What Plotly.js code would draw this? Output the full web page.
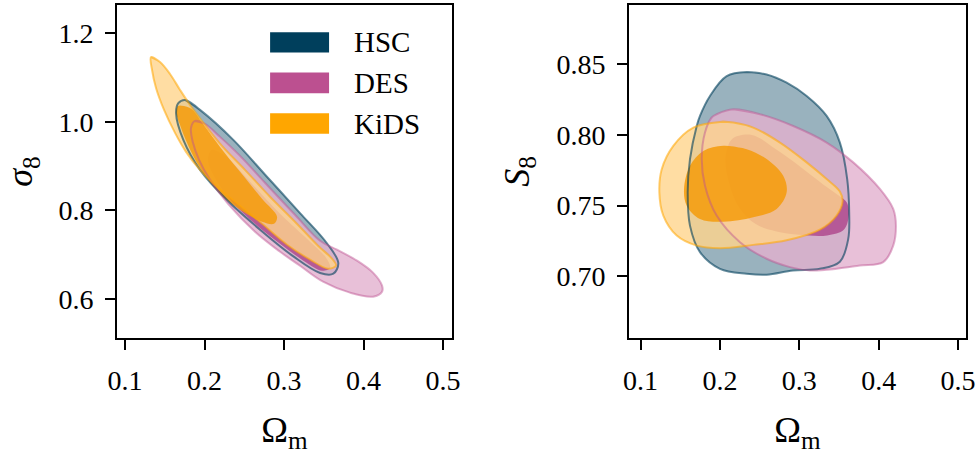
<!DOCTYPE html>
<html>
<head>
<meta charset="utf-8">
<script src="https://cdn.plot.ly/plotly-3.0.1.min.js"></script>
<style>
  html, body { margin: 0; padding: 0; background: #ffffff; }
  #chart { width: 976px; height: 456px; }
</style>
</head>
<body>
<div id="chart"></div>
<script>
// Survey names and their base colours
const surveys = ['HSC', 'DES', 'KiDS'];
const surveyColors = ['#003f5c', '#bc5090', '#ffa600'];

// ---- Left panel: Omega_m vs sigma_8 contour outlines ----
const hscSigOuterX = [0.1755, 0.1943, 0.2362, 0.2782, 0.3201, 0.3537, 0.3683, 0.3620, 0.3453, 0.3117, 0.2698, 0.2279, 0.1943, 0.1733, 0.1642, 0.1670];
const hscSigOuterY = [1.0496, 1.0271, 0.9594, 0.8767, 0.7941, 0.7265, 0.6814, 0.6573, 0.6589, 0.6963, 0.7565, 0.8241, 0.8918, 0.9594, 1.0196, 1.0422];

const desSigOuterX = [0.1881, 0.2006, 0.2195, 0.2447, 0.2761, 0.3138, 0.3453, 0.3667, 0.3918, 0.4119, 0.4233, 0.4233, 0.4119, 0.3830, 0.3491, 0.3201, 0.2950, 0.2635, 0.2296, 0.2069, 0.1931, 0.1855, 0.1830];
const desSigOuterY = [1.0023, 0.9955, 0.9662, 0.9233, 0.8625, 0.7903, 0.7317, 0.7114, 0.6866, 0.6595, 0.6302, 0.6167, 0.6054, 0.6144, 0.6392, 0.6752, 0.7068, 0.7519, 0.8150, 0.8692, 0.9143, 0.9527, 0.9865];
const desSigInnerX = [0.2094, 0.2258, 0.2572, 0.2950, 0.3327, 0.3528, 0.3579, 0.3478, 0.3264, 0.2950, 0.2635, 0.2346, 0.2132, 0.2044];
const desSigInnerY = [0.9369, 0.9234, 0.8647, 0.7925, 0.7294, 0.6933, 0.6708, 0.6641, 0.6843, 0.7249, 0.7700, 0.8196, 0.8737, 0.9143];

const kidsSigOuterX = [0.1327, 0.1440, 0.1566, 0.1692, 0.1843, 0.2006, 0.2220, 0.2509, 0.2824, 0.3138, 0.3428, 0.3604, 0.3654, 0.3553, 0.3327, 0.3038, 0.2723, 0.2447, 0.2170, 0.1943, 0.1767, 0.1629, 0.1491, 0.1390, 0.1340];
const kidsSigOuterY = [1.1466, 1.1353, 1.1082, 1.0722, 1.0316, 0.9932, 0.9459, 0.8918, 0.8309, 0.7745, 0.7204, 0.6911, 0.6753, 0.6686, 0.6889, 0.7227, 0.7700, 0.8106, 0.8512, 0.8918, 0.9324, 0.9752, 1.0271, 1.0767, 1.1172];
const kidsSigInnerX = [0.1667, 0.1818, 0.1981, 0.2195, 0.2447, 0.2723, 0.2912, 0.2874, 0.2723, 0.2447, 0.2170, 0.1943, 0.1792, 0.1692, 0.1642];
const kidsSigInnerY = [1.0361, 1.0316, 0.9954, 0.9436, 0.8872, 0.8263, 0.7857, 0.7700, 0.7745, 0.8016, 0.8422, 0.8963, 0.9481, 0.9932, 1.0225];

// ---- Right panel: Omega_m vs S_8 contour outlines ----
const hscS8OuterX = [0.2336, 0.2588, 0.2840, 0.3092, 0.3344, 0.3511, 0.3603, 0.3628, 0.3616, 0.3511, 0.3259, 0.2919, 0.2588, 0.2336, 0.2000, 0.1748, 0.1622, 0.1593, 0.1622, 0.1707, 0.1748, 0.1874, 0.2084];
const hscS8OuterY = [0.8444, 0.8427, 0.8369, 0.8275, 0.8134, 0.7946, 0.7688, 0.7454, 0.7265, 0.7104, 0.7054, 0.7042, 0.7012, 0.7019, 0.7054, 0.7172, 0.7359, 0.7594, 0.7829, 0.8063, 0.8134, 0.8275, 0.8415];

const desS8OuterX = [0.2168, 0.2504, 0.2923, 0.3344, 0.3679, 0.4015, 0.4183, 0.4217, 0.4183, 0.4057, 0.3763, 0.3470, 0.3134, 0.2882, 0.2588, 0.2252, 0.1958, 0.1811, 0.1770, 0.1811, 0.1895, 0.1958];
const desS8OuterY = [0.8181, 0.8146, 0.8063, 0.7946, 0.7806, 0.7618, 0.7477, 0.7359, 0.7218, 0.7101, 0.7077, 0.7054, 0.7042, 0.7066, 0.7125, 0.7242, 0.7430, 0.7641, 0.7829, 0.8017, 0.8123, 0.8146];
const desS8InnerX = [0.2070, 0.2150, 0.2400, 0.2700, 0.3000, 0.3300, 0.3500, 0.3600, 0.3620, 0.3560, 0.3350, 0.3000, 0.2700, 0.2450, 0.2250, 0.2120];
const desS8InnerY = [0.7850, 0.7970, 0.8000, 0.7900, 0.7780, 0.7650, 0.7570, 0.7520, 0.7420, 0.7330, 0.7290, 0.7295, 0.7320, 0.7370, 0.7480, 0.7650];

const kidsS8OuterX = [0.2000, 0.2168, 0.2419, 0.2756, 0.3092, 0.3344, 0.3511, 0.3545, 0.3470, 0.3259, 0.2840, 0.2419, 0.2000, 0.1707, 0.1455, 0.1286, 0.1236, 0.1266, 0.1412, 0.1664];
const kidsS8OuterY = [0.8092, 0.8088, 0.8052, 0.7946, 0.7806, 0.7688, 0.7600, 0.7530, 0.7430, 0.7330, 0.7255, 0.7223, 0.7200, 0.7218, 0.7289, 0.7430, 0.7594, 0.7758, 0.7923, 0.8052];
const kidsS8InnerX = [0.2042, 0.2336, 0.2588, 0.2797, 0.2840, 0.2714, 0.2419, 0.2042, 0.1748, 0.1581, 0.1547, 0.1622, 0.1790];
const kidsS8InnerY = [0.7923, 0.7899, 0.7829, 0.7711, 0.7594, 0.7477, 0.7418, 0.7387, 0.7406, 0.7500, 0.7618, 0.7782, 0.7887];

// Axis ticks
const omegaTicks = [0.1, 0.2, 0.3, 0.4, 0.5];
const sigmaTicks = [0.6, 0.8, 1.0, 1.2];
const s8Ticks = [0.70, 0.75, 0.80, 0.85];

// Fill / outline styles per survey (outer = 95%, inner = 68%)
const outerFill = ['rgba(0,63,92,0.4)', 'rgba(226,176,206,0.8)', 'rgba(255,212,140,0.8)'];
const innerFill = [null, 'rgba(172,68,137,0.8)', 'rgba(245,155,10,0.85)'];
const outline = ['rgba(0,63,92,0.6)', 'rgba(188,80,144,0.45)', 'rgba(255,166,0,0.55)'];

// Wrap the start of the outline onto its end so the spline closes smoothly
function loop(a) { return a.concat([a[0], a[1]]); }

function fillTrace(xs, ys, color, xa, ya) {
  return {
    x: loop(xs), y: loop(ys), xaxis: xa, yaxis: ya,
    type: 'scatter', mode: 'lines', fill: 'toself', fillcolor: color,
    line: { width: 0, shape: 'spline', smoothing: 1, color: 'rgba(0,0,0,0)' },
    hoverinfo: 'skip', showlegend: false
  };
}
function lineTrace(xs, ys, color, xa, ya) {
  return {
    x: loop(xs), y: loop(ys), xaxis: xa, yaxis: ya,
    type: 'scatter', mode: 'lines',
    line: { width: 2, shape: 'spline', smoothing: 1, color: color },
    hoverinfo: 'skip', showlegend: false
  };
}

const panels = [
  { xa: 'x', ya: 'y',
    outer: [[hscSigOuterX, hscSigOuterY], [desSigOuterX, desSigOuterY], [kidsSigOuterX, kidsSigOuterY]],
    inner: [null, [desSigInnerX, desSigInnerY], [kidsSigInnerX, kidsSigInnerY]] },
  { xa: 'x2', ya: 'y2',
    outer: [[hscS8OuterX, hscS8OuterY], [desS8OuterX, desS8OuterY], [kidsS8OuterX, kidsS8OuterY]],
    inner: [null, [desS8InnerX, desS8InnerY], [kidsS8InnerX, kidsS8InnerY]] }
];

const traces = [];
panels.forEach(p => {
  // filled regions, HSC first, KiDS on top
  for (let i = 0; i < surveys.length; i++) {
    traces.push(fillTrace(p.outer[i][0], p.outer[i][1], outerFill[i], p.xa, p.ya));
    if (p.inner[i]) traces.push(fillTrace(p.inner[i][0], p.inner[i][1], innerFill[i], p.xa, p.ya));
  }
  // outer outlines above every fill
  for (let i = 0; i < surveys.length; i++) {
    traces.push(lineTrace(p.outer[i][0], p.outer[i][1], outline[i], p.xa, p.ya));
  }
});

const FONT = 'Liberation Serif, Times New Roman, serif';

function axisStyle(extra) {
  return Object.assign({
    showline: true, mirror: true, linecolor: '#000', linewidth: 2,
    ticks: 'outside', ticklen: 10, tickwidth: 2, tickcolor: '#000',
    showgrid: false, zeroline: false, automargin: false,
    tickfont: { family: FONT, size: 28, color: '#000' },
    ticklabelstandoff: 6
  }, extra);
}

// Legend swatches and labels inside the left panel
const swatchY = [[0.857, 0.918], [0.735, 0.797], [0.613, 0.675]];
const shapes = surveys.map((s, i) => ({
  type: 'rect', xref: 'x domain', yref: 'y domain',
  x0: 0.457, x1: 0.633, y0: swatchY[i][0], y1: swatchY[i][1],
  fillcolor: surveyColors[i], line: { width: 0 }
}));
const annotations = surveys.map((s, i) => ({
  text: s, xref: 'x domain', yref: 'y domain',
  x: 0.700, y: (swatchY[i][0] + swatchY[i][1]) / 2,
  xanchor: 'left', yanchor: 'middle', showarrow: false,
  font: { family: FONT, size: 29, color: '#000' }
}));

const layout = {
  width: 976, height: 456,
  margin: { l: 117, r: 10, t: 5, b: 118 },
  paper_bgcolor: '#fff', plot_bgcolor: '#fff',
  showlegend: false,
  font: { family: FONT, color: '#000' },
  xaxis: axisStyle({ domain: [0, 0.3946], range: [0.0899, 0.5113], anchor: 'y',
    tickvals: omegaTicks, tickformat: '.1f',
    title: { text: 'Ω<sub>m</sub>', font: { family: FONT, size: 36 }, standoff: 22 } }),
  yaxis: axisStyle({ domain: [0, 1], range: [0.512, 1.264], anchor: 'x',
    tickvals: sigmaTicks, tickformat: '.1f',
    title: { text: '<i>σ</i><sub>8</sub>', font: { family: FONT, size: 36 }, standoff: 16 } }),
  xaxis2: axisStyle({ domain: [0.6031, 1], range: [0.0854, 0.510], anchor: 'y2',
    tickvals: omegaTicks, tickformat: '.1f',
    title: { text: 'Ω<sub>m</sub>', font: { family: FONT, size: 36 }, standoff: 22 } }),
  yaxis2: axisStyle({ domain: [0, 1], range: [0.6565, 0.8918], anchor: 'x2',
    tickvals: s8Ticks, tickformat: '.2f',
    title: { text: '<i>S</i><sub>8</sub>', font: { family: FONT, size: 36 }, standoff: 16 } }),
  shapes: shapes,
  annotations: annotations
};

Plotly.newPlot('chart', traces, layout, { staticPlot: true, displayModeBar: false });
</script>
</body>
</html>
